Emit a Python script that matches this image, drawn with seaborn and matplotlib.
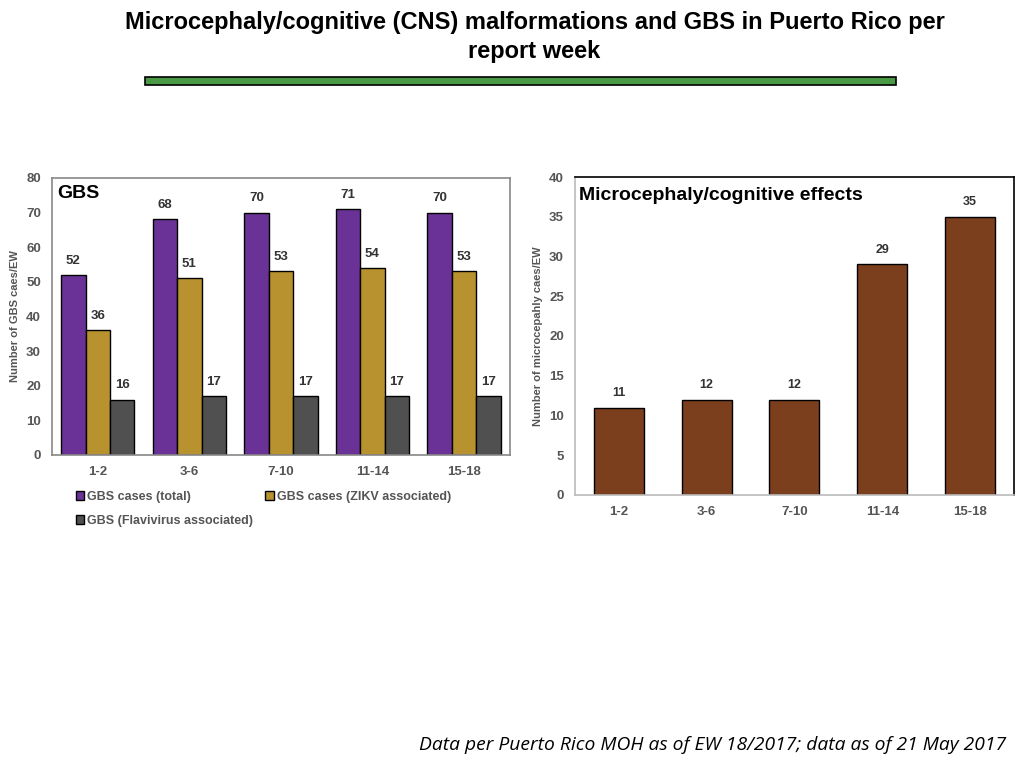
import pandas as pd
import seaborn as sns
import matplotlib.pyplot as plt
from matplotlib.patches import Rectangle

# Data
weeks = ['1-2', '3-6', '7-10', '11-14', '15-18']
gbs_total = [52, 68, 70, 71, 70]
gbs_zikv = [36, 51, 53, 54, 53]
gbs_flavi = [16, 17, 17, 17, 17]
series_names = ['GBS cases (total)', 'GBS cases (ZIKV associated)', 'GBS (Flavivirus associated)']
micro_cases = [11, 12, 12, 29, 35]

gbs_colors = ['#6A3296', '#B8922F', '#505050']
micro_color = '#7B3F1E'
gray = '#555555'

sns.set_theme(style='white', rc={'text.color': 'black'})
plt.rcParams['font.family'] = ['Liberation Sans', 'DejaVu Sans']

fig = plt.figure(figsize=(10.24, 7.68), dpi=100)

# Title and green rule
fig.text(0.522, 0.986, 'Microcephaly/cognitive (CNS) malformations and GBS in Puerto Rico per\nreport week',
         ha='center', va='top', fontsize=17, fontweight='bold', linespacing=1.35, color='black')
fig.patches.append(Rectangle((145 / 1024, 1 - 85 / 768), 751 / 1024, 8 / 768, transform=fig.transFigure,
                             facecolor='#4A9A45', edgecolor='black', linewidth=1.2))

# GBS chart
df_gbs = pd.DataFrame({
    'week': weeks * 3,
    'series': [series_names[0]] * 5 + [series_names[1]] * 5 + [series_names[2]] * 5,
    'cases': gbs_total + gbs_zikv + gbs_flavi,
})
ax1 = fig.add_axes([0.0508, 0.4076, 0.447, 0.3607])
sns.barplot(data=df_gbs, x='week', y='cases', hue='series', palette=gbs_colors, width=0.8,
            edgecolor='black', linewidth=1, saturation=1, ax=ax1)
for c in ax1.containers:
    ax1.bar_label(c, padding=6, fontsize=9.5, fontweight='bold', color='#333333')
ax1.set_ylim(0, 80)
ax1.set_xlim(-0.5, 4.5)
ax1.set_yticks(range(0, 81, 10))
ax1.set_xlabel('')
ax1.set_ylabel('Number of GBS caes/EW', fontsize=8, fontweight='bold', color=gray)
ax1.text(0.012, 0.975, 'GBS', transform=ax1.transAxes, ha='left', va='top', fontsize=14,
         fontweight='bold', color='black')

# legend rows: total, ZIKV / Flavivirus (ncol fills column-wise)
handles, labels = ax1.get_legend_handles_labels()
order = [0, 2, 1]
ax1.legend([handles[i] for i in order], [labels[i] for i in order],
           loc='upper left', bbox_to_anchor=(0.027, -0.09), ncol=2, frameon=False,
           handlelength=0.7, handleheight=0.7, handletextpad=0.2, columnspacing=1.0,
           labelspacing=0.95, prop={'weight': 'bold', 'size': 9})
for t in ax1.get_legend().get_texts():
    t.set_color(gray)
for s in ax1.spines.values():
    s.set_color('#888888')
    s.set_linewidth(1.2)

# Microcephaly chart
df_micro = pd.DataFrame({'week': weeks, 'cases': micro_cases})
ax2 = fig.add_axes([0.5615, 0.3555, 0.4287, 0.414])
sns.barplot(data=df_micro, x='week', y='cases', color=micro_color, width=0.57,
            edgecolor='black', linewidth=1, saturation=1, ax=ax2)
ax2.bar_label(ax2.containers[0], padding=6, fontsize=9, fontweight='bold', color='#333333')
ax2.set_ylim(0, 40)
ax2.set_xlim(-0.5, 4.5)
ax2.set_yticks(range(0, 41, 5))
ax2.set_xlabel('')
ax2.set_ylabel('Number of microcepahly caes/EW', fontsize=8, fontweight='bold', color=gray)
ax2.text(0.01, 0.97, 'Microcephaly/cognitive effects', transform=ax2.transAxes, ha='left', va='top',
         fontsize=14, fontweight='bold', color='black')
for s in ax2.spines.values():
    s.set_color('black')
    s.set_linewidth(1.2)
ax2.spines['bottom'].set_color('#BBBBBB')
ax2.spines['left'].set_color('#BBBBBB')

for ax in (ax1, ax2):
    ax.tick_params(axis='both', labelsize=9.5, colors=gray, length=0, pad=8)
    for lbl in ax.get_xticklabels() + ax.get_yticklabels():
        lbl.set_fontweight('bold')

fig.text(0.983, 0.018, 'Data per Puerto Rico MOH as of EW 18/2017; data as of 21 May 2017',
         ha='right', va='bottom', fontsize=13.9, style='italic', color='black',
         family=['Open Sans', 'DejaVu Sans'])

fig.savefig('out.png', dpi=100)
